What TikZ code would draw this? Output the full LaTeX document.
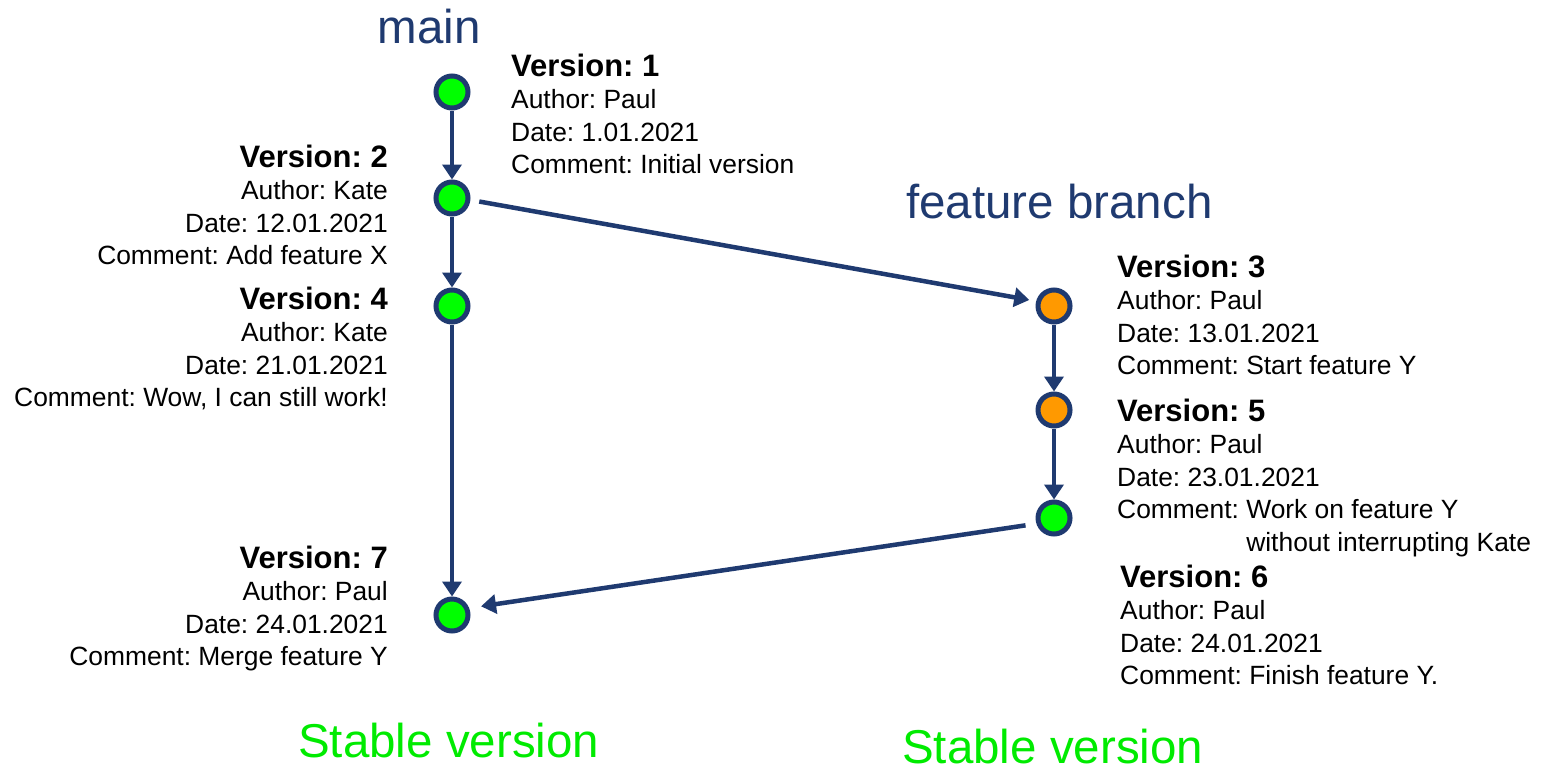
\documentclass[tikz,border=0pt]{standalone}
\usepackage{fontspec}
\setmainfont{Liberation Sans}
\usetikzlibrary{arrows.meta}
\frenchspacing
\definecolor{navy}{RGB}{31,58,112}
\definecolor{brightgreen}{RGB}{0,255,0}
\definecolor{stablegreen}{RGB}{0,235,0}
\definecolor{orangefill}{RGB}{255,153,0}
\newcommand{\vhead}[1]{{\fontsize{31}{32.5}\selectfont\bfseries #1}}
\tikzset{
  commit/.style={circle, draw=navy, line width=5pt, minimum size=32pt, inner sep=0pt},
  stable/.style={commit, fill=brightgreen},
  wip/.style={commit, fill=orangefill},
  link/.style={draw=navy, line width=4.5pt, -{Triangle[length=15pt,width=19pt]}},
  info/.style={inner sep=0pt, font=\fontsize{26.4}{32.5}\selectfont\frenchspacing},
  branchname/.style={inner sep=0pt, text=navy, font=\fontsize{47.5}{57}\selectfont},
  stabletext/.style={inner sep=0pt, text=stablegreen, font=\fontsize{47.5}{57}\selectfont}
}
\begin{document}
\begin{tikzpicture}[x=1pt,y=-1pt]
\useasboundingbox (0,0) rectangle (1544,769);
\fill[white] (0,0) rectangle (1544,769);
% commits
\node[stable] (n1) at (452,92) {};
\node[stable] (n2) at (452,198) {};
\node[stable] (n4) at (452,306) {};
\node[stable] (n7) at (452,615) {};
\node[wip] (n3) at (1054,306) {};
\node[wip] (n5) at (1054,410) {};
\node[stable] (n6) at (1054,518) {};
% connectors
\draw[link] (n1.south) -- (n2.north);
\draw[link] (n2.south) -- (n4.north);
\draw[link] (n4.south) -- (n7.north);
\draw[link] (n3.south) -- (n5.north);
\draw[link] (n5.south) -- (n6.north);
\draw[link, shorten <=9pt, shorten >=7pt] (n2.-6) -- (n3.165);
\draw[link, shorten <=11pt, shorten >=12pt] (n6.198) -- (n7.22);
% titles
\node[branchname, anchor=base] (tmain) at (429,43) {main};
\node[branchname, anchor=base west] (tfeat) at (906,218) {feature branch};
\node[stabletext, anchor=base west] (s1) at (298,757) {Stable version};
\node[stabletext, anchor=base west] (s2) at (902,763) {Stable version};
% info blocks
\node[info, anchor=base west] (i1) at (511,76) {\begin{tabular}[t]{@{}l@{}}\vhead{Version: 1}\\Author: Paul\\Date: 1.01.2021\\Comment: Initial version\end{tabular}};
\node[info, anchor=base east] (i2) at (388,167) {\begin{tabular}[t]{@{}r@{}}\vhead{Version: 2}\\Author: Kate\\Date: 12.01.2021\\Comment: Add feature X\end{tabular}};
\node[info, anchor=base east] (i4) at (388,309) {\begin{tabular}[t]{@{}r@{}}\vhead{Version: 4}\\Author: Kate\\Date: 21.01.2021\\Comment: Wow, I can still work!\end{tabular}};
\node[info, anchor=base east] (i7) at (388,568) {\begin{tabular}[t]{@{}r@{}}\vhead{Version: 7}\\Author: Paul\\Date: 24.01.2021\\Comment: Merge feature Y\end{tabular}};
\node[info, anchor=base west] (i3) at (1117,277) {\begin{tabular}[t]{@{}l@{}}\vhead{Version: 3}\\Author: Paul\\Date: 13.01.2021\\Comment: Start feature Y\end{tabular}};
\node[info, anchor=base west] (i5) at (1117,421) {\begin{tabular}[t]{@{}l@{}}\vhead{Version: 5}\\Author: Paul\\Date: 23.01.2021\\Comment: Work on feature Y\\\hphantom{Comment: }without interrupting Kate\end{tabular}};
\node[info, anchor=base west] (i6) at (1120,587) {\begin{tabular}[t]{@{}l@{}}\vhead{Version: 6}\\Author: Paul\\Date: 24.01.2021\\Comment: Finish feature Y.\end{tabular}};
\end{tikzpicture}
\end{document}
